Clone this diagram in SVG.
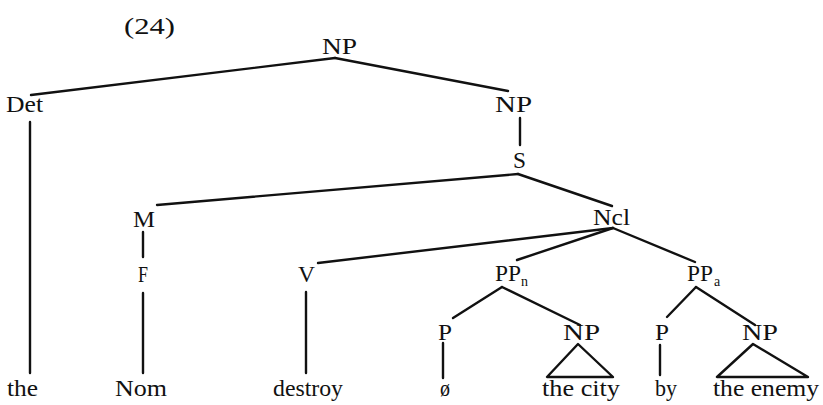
<svg xmlns="http://www.w3.org/2000/svg" width="823" height="405" viewBox="0 0 823 405">
<style>
text{font-family:"Liberation Serif","DejaVu Serif",serif;font-size:24px;fill:#111}
.sub{font-size:14px}
.e{stroke:#111;stroke-width:2.4;fill:none;stroke-linecap:round;stroke-linejoin:round}
</style>
<rect width="823" height="405" fill="#fff"/>
<text x="124" y="34" font-size="26" textLength="51" lengthAdjust="spacingAndGlyphs">(24)</text>
<g id="edges">
<line class="e" x1="335" y1="58" x2="31" y2="95"/>
<line class="e" x1="335" y1="58" x2="508" y2="91"/>
<line class="e" x1="30" y1="122" x2="30" y2="373"/>
<line class="e" x1="520" y1="118" x2="520" y2="145"/>
<line class="e" x1="518" y1="174" x2="157" y2="205"/>
<line class="e" x1="518" y1="174" x2="612" y2="206"/>
<line class="e" x1="143" y1="232" x2="143" y2="257"/>
<line class="e" x1="143" y1="293" x2="143" y2="373"/>
<line class="e" x1="613" y1="228" x2="318" y2="263"/>
<line class="e" x1="613" y1="228" x2="517" y2="260"/>
<line class="e" x1="613" y1="228" x2="695" y2="262"/>
<line class="e" x1="306" y1="292" x2="306" y2="373"/>
<line class="e" x1="502" y1="287" x2="453" y2="318"/>
<line class="e" x1="502" y1="287" x2="580" y2="325"/>
<line class="e" x1="443" y1="343" x2="443" y2="378"/>
<polygon class="e" points="578,344 547,377 613,377"/>
<line class="e" x1="696" y1="287" x2="667" y2="317"/>
<line class="e" x1="696" y1="287" x2="755" y2="325"/>
<line class="e" x1="660" y1="345" x2="660" y2="375"/>
<polygon class="e" points="753,344 717,377 808,377"/>
</g>
<g id="np-top"><text x="322" y="54" textLength="35" lengthAdjust="spacingAndGlyphs">NP</text></g>
<g id="det"><text x="6" y="112" textLength="37" lengthAdjust="spacingAndGlyphs">Det</text></g>
<g id="np-right"><text x="495" y="112" textLength="37" lengthAdjust="spacingAndGlyphs">NP</text></g>
<g id="s"><text x="513" y="168" textLength="13" lengthAdjust="spacingAndGlyphs">S</text></g>
<g id="m"><text x="133" y="227" textLength="22" lengthAdjust="spacingAndGlyphs">M</text></g>
<g id="ncl"><text x="593" y="225" textLength="37" lengthAdjust="spacingAndGlyphs">Ncl</text></g>
<g id="f"><text x="138" y="282" textLength="10" lengthAdjust="spacingAndGlyphs">F</text></g>
<g id="v"><text x="298" y="282" textLength="17" lengthAdjust="spacingAndGlyphs">V</text></g>
<g id="pp-n"><text x="495" y="281" textLength="26" lengthAdjust="spacingAndGlyphs">PP</text><text class="sub" x="521" y="286">n</text></g>
<g id="pp-a"><text x="687" y="281" textLength="26" lengthAdjust="spacingAndGlyphs">PP</text><text class="sub" x="714" y="286">a</text></g>
<g id="p-left"><text x="438" y="340" textLength="14" lengthAdjust="spacingAndGlyphs">P</text></g>
<g id="np-city"><text x="563" y="340" textLength="37" lengthAdjust="spacingAndGlyphs">NP</text></g>
<g id="p-right"><text x="655" y="340" textLength="14" lengthAdjust="spacingAndGlyphs">P</text></g>
<g id="np-enemy"><text x="742" y="340" textLength="36" lengthAdjust="spacingAndGlyphs">NP</text></g>
<g id="w-the"><text x="7" y="396" textLength="31" lengthAdjust="spacingAndGlyphs">the</text></g>
<g id="w-nom"><text x="115" y="396" textLength="52" lengthAdjust="spacingAndGlyphs">Nom</text></g>
<g id="w-destroy"><text x="273" y="396" textLength="70" lengthAdjust="spacingAndGlyphs">destroy</text></g>
<g id="w-null"><text x="440" y="396" textLength="10" lengthAdjust="spacingAndGlyphs">ø</text></g>
<g id="w-city"><text x="542" y="396" textLength="78" lengthAdjust="spacingAndGlyphs">the city</text></g>
<g id="w-by"><text x="655" y="396" textLength="22" lengthAdjust="spacingAndGlyphs">by</text></g>
<g id="w-enemy"><text x="713" y="396" textLength="106" lengthAdjust="spacingAndGlyphs">the enemy</text></g>
</svg>
